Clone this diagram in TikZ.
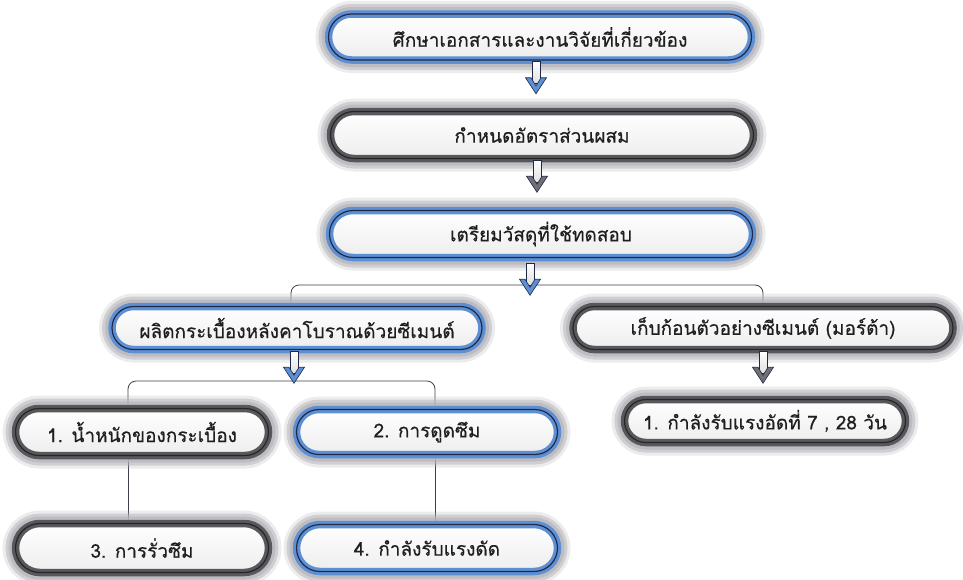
\documentclass[tikz,border=0pt]{standalone}
\usepackage{fontspec}
\newfontfamily\thaifont[Script=Thai, FakeBold=0.4]{Loma}
\usetikzlibrary{shapes.misc,calc}
\pgfdeclarelayer{bg}
\pgfsetlayers{bg,main}
\definecolor{ringblue}{HTML}{5E8FD3}
\definecolor{ringgray}{HTML}{58575B}
\definecolor{navy}{HTML}{1E2A48}
\definecolor{glowc}{HTML}{B4B4BA}
\definecolor{txtc}{HTML}{1E1E1E}
\definecolor{connc}{HTML}{3A3F4A}
\newcommand\dnarr[2]{%
  \begin{scope}[shift={(#1)}]
    \draw[arrline, top color=white, bottom color=black!12] (-4,-2) rectangle (4,20);
    \draw[arrline, fill=#2] (-10.5,14) -- (-5,14) -- (0,22) -- (5,14) -- (10.5,14) -- (0,30) -- cycle;
  \end{scope}}
\begin{document}
\begin{tikzpicture}[x=1pt,y=-1pt,
  pill/.style={rounded rectangle, inner sep=0pt, top color=white, bottom color=black!7,
    font=\thaifont\fontsize{19}{22}\selectfont, text=txtc, line width=7.5pt,
    preaction={draw=glowc, line width=26pt, opacity=.25},
    preaction={draw=glowc, line width=20pt, opacity=.5},
    preaction={draw=glowc, line width=14pt, opacity=.7}},
  bluepill/.style={pill, draw=ringblue, postaction={draw=navy, line width=1.2pt}},
  graypill/.style={pill, draw=ringgray, postaction={draw=black!85, line width=1.2pt}},
  conn/.style={draw=connc, line width=0.8pt, rounded corners=8pt},
  arrline/.style={draw=navy, line width=0.6pt, line join=miter}]
\useasboundingbox (0,0) rectangle (963,579);
\begin{pgfonlayer}{bg}
  \fill[white] (0,0) rectangle (963,579);
\end{pgfonlayer}

\node[bluepill, minimum width=423pt, minimum height=46pt] (n1) at (540,37) {ศึกษาเอกสารและงานวิจัยที่เกี่ยวข้อง};
\node[graypill, minimum width=423pt, minimum height=47pt] (n2) at (542,135) {กำหนดอัตราส่วนผสม};
\node[bluepill, minimum width=423pt, minimum height=47pt] (n3) at (541,234) {เตรียมวัสดุที่ใช้ทดสอบ};
\node[bluepill, minimum width=370pt, minimum height=43pt] (L) at (297,328) {ผลิตกระเบื้องหลังคาโบราณด้วยซีเมนต์};
\node[graypill, minimum width=380pt, minimum height=43pt] (R) at (763,328) {เก็บก้อนตัวอย่างซีเมนต์ (มอร์ต้า)};
\node[graypill, minimum width=253pt, minimum height=47pt] (L1) at (142,432) {1. น้ำหนักของกระเบื้อง};
\node[bluepill, minimum width=261pt, minimum height=45pt] (L2) at (427,432) {2. การดูดซึม};
\node[graypill, minimum width=281pt, minimum height=43pt] (R1) at (765,421) {1. กำลังรับแรงอัดที่ 7 , 28 วัน};
\node[graypill, minimum width=253pt, minimum height=49pt] (L3) at (142,548) {3. การรั่วซึม};
\node[bluepill, minimum width=261pt, minimum height=47pt] (L4) at (427,548) {4. กำลังรับแรงดัด};

\coordinate (bar1) at (530,285);
\coordinate (bar2) at (290,381);
\begin{pgfonlayer}{bg}
  \draw[conn] ([xshift=-6pt]L.north) |- (bar1) -| (R.north);
  \draw[conn] ([xshift=-14pt]L1.north) |- (bar2) -| ([xshift=8pt]L2.north);
  \draw[conn] ([xshift=-14pt]L1.south) -- ([xshift=-14pt]L3.north);
  \draw[conn] ([xshift=8pt]L2.south) -- ([xshift=8pt]L4.north);
\end{pgfonlayer}

\dnarr{[xshift=-4pt]n1.south}{ringblue}
\dnarr{[xshift=-5pt]n2.south}{ringgray!85}
\dnarr{[xshift=-11pt,yshift=-4pt]n3.south}{ringblue}
\dnarr{[xshift=-3pt]L.south}{ringblue}
\dnarr{R.south}{ringgray!85}
\end{tikzpicture}
\end{document}
